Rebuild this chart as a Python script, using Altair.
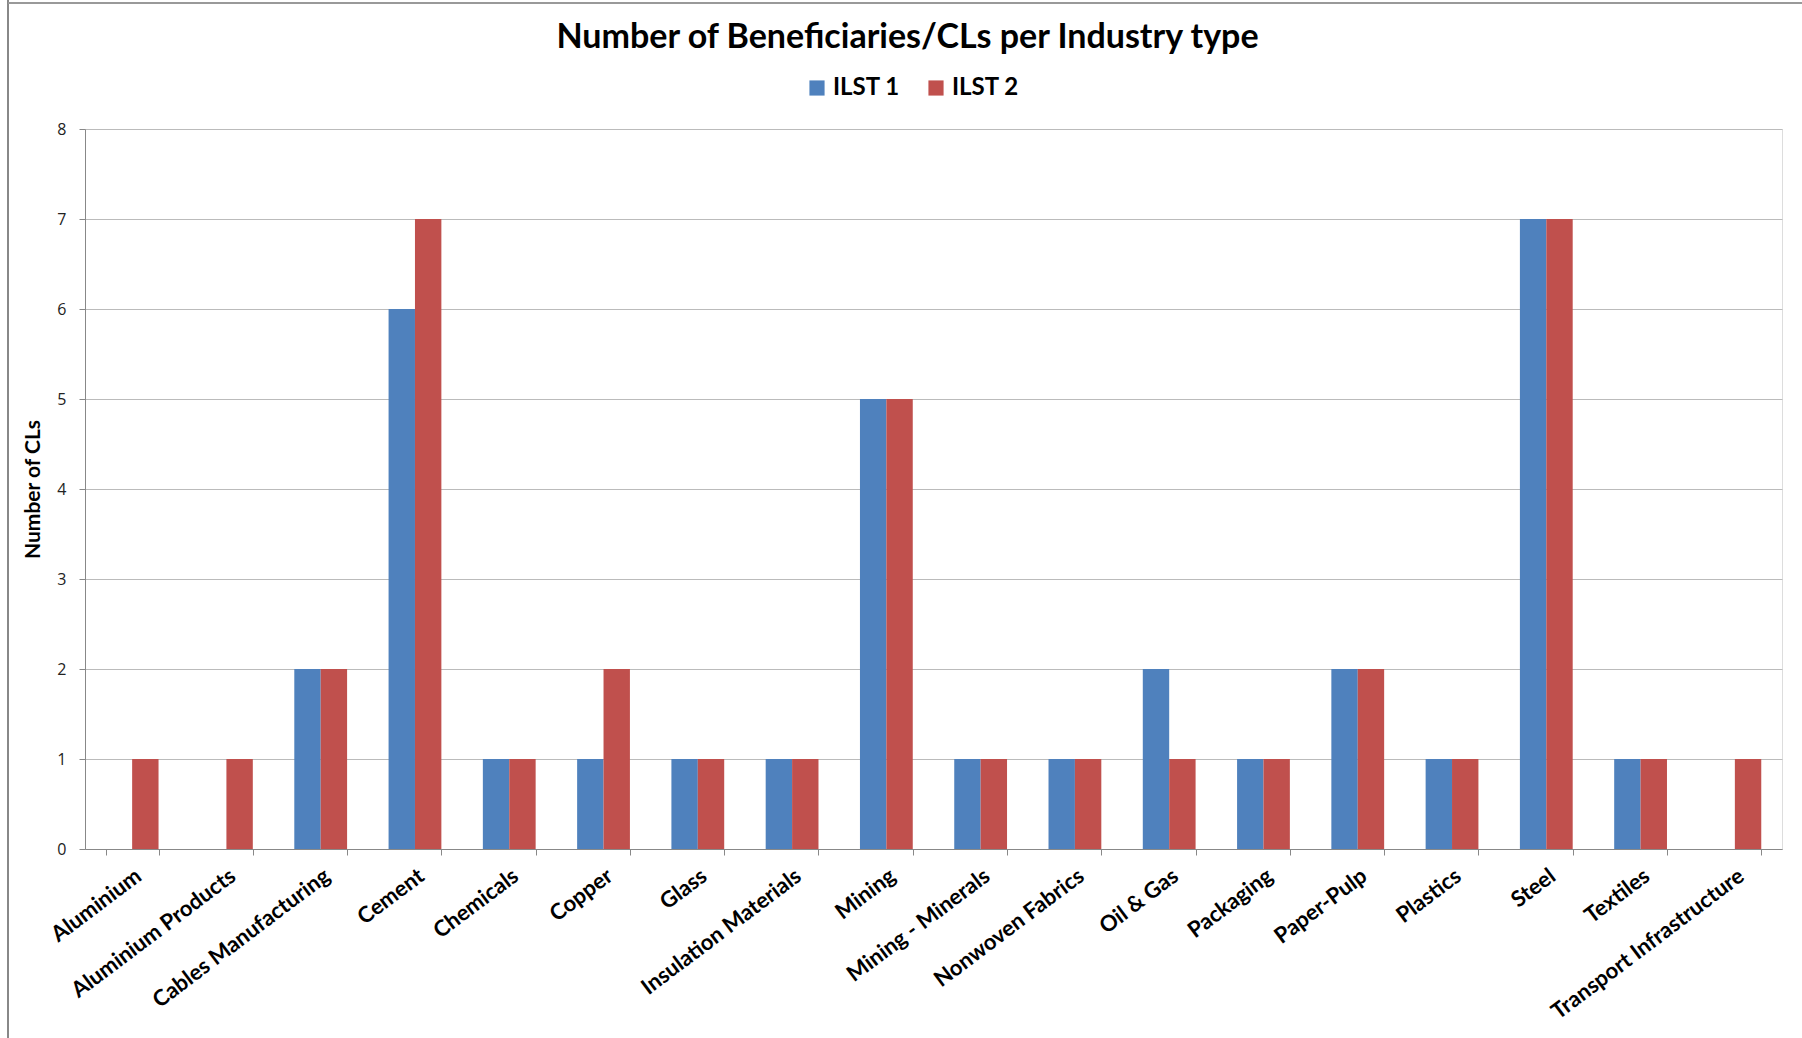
import altair as alt
import pandas as pd

categories = ["Aluminium", "Aluminium Products", "Cables Manufacturing", "Cement",
              "Chemicals", "Copper", "Glass", "Insulation Materials", "Mining",
              "Mining - Minerals", "Nonwoven Fabrics", "Oil & Gas", "Packaging",
              "Paper-Pulp", "Plastics", "Steel", "Textiles", "Transport Infrastructure"]
ilst1 = [0, 0, 2, 6, 1, 1, 1, 1, 5, 1, 1, 2, 1, 2, 1, 7, 1, 0]
ilst2 = [1, 1, 2, 7, 1, 2, 1, 1, 5, 1, 1, 1, 1, 2, 1, 7, 1, 1]
series = ["ILST 1", "ILST 2"]
colors = ["#4F81BD", "#C0504D"]
y_ticks = [0, 1, 2, 3, 4, 5, 6, 7, 8]

rows = []
for c, a, b in zip(categories, ilst1, ilst2):
    rows.append({"Industry": c, "Series": series[0], "Value": a})
    rows.append({"Industry": c, "Series": series[1], "Value": b})
df = pd.DataFrame(rows)

FONT = "Lato"
W, H = 1697, 720

bars = alt.Chart(df).mark_bar().encode(
    x=alt.X("Industry:N", sort=categories,
            scale=alt.Scale(paddingInner=0.44, paddingOuter=0.22),
            axis=alt.Axis(title=None, labelAngle=-37, labelAlign="right", labelBaseline="top",
                          labelFont=FONT, labelFontWeight="bold", labelFontSize=22,
                          labelColor="#000000", labelPadding=10, tickBand="extent",
                          tickSize=6, tickColor="#888888", domainColor="#888888",
                          labelOverlap=False, labelLimit=400)),
    xOffset=alt.XOffset("Series:N", sort=series),
    y=alt.Y("Value:Q", scale=alt.Scale(domain=[0, 8], nice=False),
            axis=alt.Axis(title="Number of CLs", values=y_ticks, titleFont=FONT,
                          titleFontWeight="bold", titleFontSize=21, titleColor="#000000",
                          titleX=-42, titleY=H / 2, titleAngle=-90,
                          labelFont="Open Sans", labelFontSize=16, labelColor="#222222",
                          labelPadding=13, tickSize=6, tickColor="#888888",
                          domainColor="#888888", gridColor="#BBBBBB")),
    color=alt.Color("Series:N", sort=series,
                    scale=alt.Scale(domain=series, range=colors),
                    legend=alt.Legend(title=None, orient="none", direction="horizontal",
                                      legendX=720, legendY=-53, symbolType="square",
                                      symbolSize=230, symbolStrokeWidth=0,
                                      labelFont=FONT, labelFontWeight="bold",
                                      labelFontSize=24, labelColor="#000000",
                                      columnPadding=24)),
)

frame = pd.DataFrame({"k": [0]})
left_border = alt.Chart(frame).mark_rule(color="#888888", strokeWidth=2).encode(
    x=alt.value(-77), y=alt.value(-129), y2=alt.value(909))
top_border = alt.Chart(frame).mark_rule(color="#999999", strokeWidth=2).encode(
    x=alt.value(-77), x2=alt.value(1717), y=alt.value(-126))

chart = alt.layer(bars, left_border, top_border).properties(
    width=W, height=H,
    title=alt.TitleParams("Number of Beneficiaries/CLs per Industry type", font=FONT,
                          fontSize=34, fontWeight="bold", color="#000000",
                          anchor="middle", dx=-26, dy=60, frame="group", offset=4),
    autosize=alt.AutoSizeParams(type="none"),
    padding={"left": 85, "top": 129, "right": 20, "bottom": 189},
).configure_view(stroke=None).configure(background="#FFFFFF")

chart.save("out.html", embed_options={"renderer": "svg", "actions": False})
